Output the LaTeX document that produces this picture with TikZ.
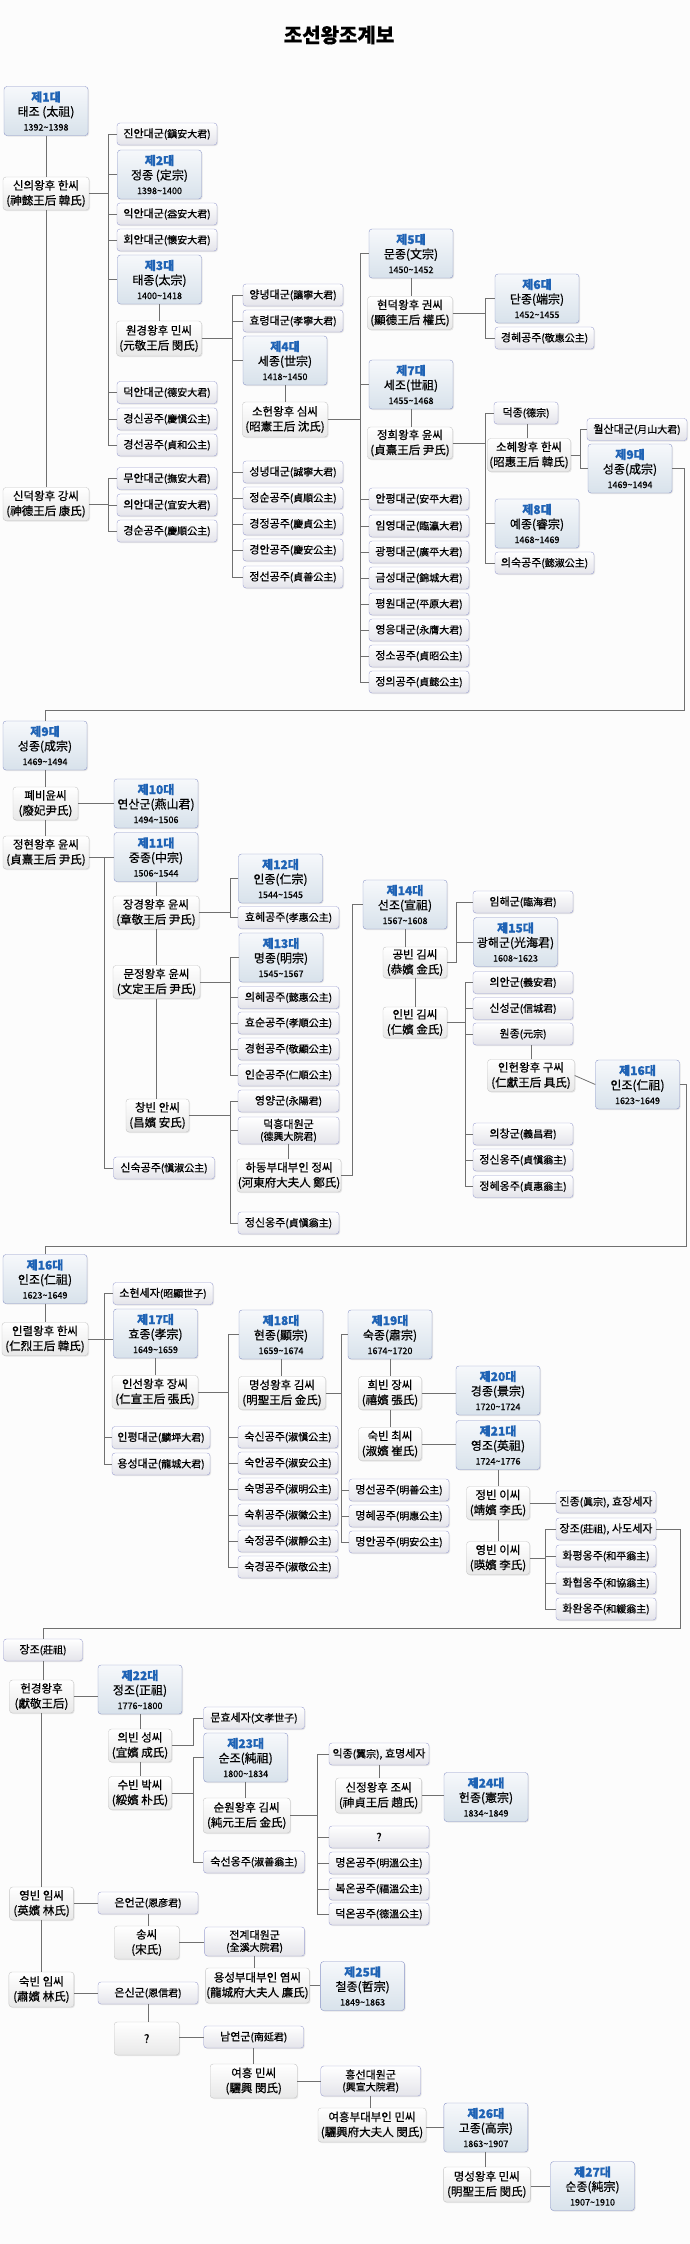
\documentclass[tikz,border=0pt]{standalone}
\usepackage{fontspec}
\setmainfont{Noto Sans CJK KR}[FakeBold=0.6]
\usepackage{xcolor}
\usetikzlibrary{shadows}
\definecolor{daeblue}{HTML}{1F63B5}
\definecolor{kingline}{HTML}{8C96C8}
\definecolor{kidline}{HTML}{9EA2D2}
\definecolor{wifeline}{HTML}{C6C6C6}
\definecolor{linkgray}{HTML}{707070}
\definecolor{kingtop}{HTML}{F6F8FB}
\definecolor{kingbot}{HTML}{D8E2EB}
\definecolor{kidbot}{HTML}{E4E4EA}
\definecolor{wifebot}{HTML}{E8E8E8}
\definecolor{paper}{HTML}{FCFCFC}
\newcommand{\hj}{\fontsize{10}{12}\selectfont}
\newcommand{\dae}{\color{daeblue}\bfseries}
\newcommand{\yr}{\fontsize{9}{14.5}\selectfont}
\tikzset{king/.style={draw=kingline, rounded corners=3pt, top color=kingtop, bottom color=kingbot,
   minimum width=84pt, minimum height=49pt, inner sep=0pt, align=center,
   font=\fontsize{12}{14.5}\selectfont, drop shadow={opacity=0.18,shadow xshift=1pt,shadow yshift=-1pt}},
 kid/.style={draw=kidline, rounded corners=3pt, top color=white, bottom color=kidbot,
   minimum width=100pt, minimum height=22pt, inner sep=0pt, align=center,
   font=\fontsize{11}{12}\selectfont, drop shadow={opacity=0.18,shadow xshift=1pt,shadow yshift=-1pt}},
 wife/.style={draw=wifeline, rounded corners=3pt, top color=white, bottom color=wifebot,
   minimum height=33pt, inner sep=0pt, align=center,
   font=\fontsize{11.5}{15}\selectfont, drop shadow={opacity=0.18,shadow xshift=1pt,shadow yshift=-1pt}},
 link/.style={draw=linkgray, line width=0.8pt},
 }

\begin{document}
\begin{tikzpicture}[x=1pt,y=-1pt]
        \fill[paper] (0,0) rectangle (690,2244);
        \useasboundingbox (0,0) rectangle (690,2244);
        \node[font=\fontsize{20}{24}\selectfont\bfseries] (title) at (339,35) {조선왕조계보};

        \coordinate (b1) at (108,0);
        \coordinate (b3) at (232,0);
        \coordinate (b4) at (360,0);
        \coordinate (b5) at (485,0);
        \coordinate (b7) at (580,0);
        \coordinate (turn9) at (684,710);
        \coordinate (b8) at (104,0);
        \coordinate (b9) at (230,0);
        \coordinate (b12) at (352,0);
        \coordinate (b13) at (456,0);
        \coordinate (b14) at (465.5,0);
        \coordinate (turn16) at (686.5,1246);
        \coordinate (b16) at (228,0);
        \coordinate (b17) at (341,0);
        \coordinate (b18) at (545.5,0);
        \coordinate (turn22) at (680,1628);
        \coordinate (b19) at (193.6,0);
        \coordinate (b21) at (317.7,0);

        \node[king] (k1) at (46,111) {{\dae 제1대}\\태조 (太祖)\\{\yr 1392\textasciitilde1398}};
        \node[king] (k2) at (159.5,174.5) {{\dae 제2대}\\정종 (定宗)\\{\yr 1398\textasciitilde1400}};
        \node[king] (k3) at (159.5,279.5) {{\dae 제3대}\\태종(太宗)\\{\yr 1400\textasciitilde1418}};
        \node[king] (k4) at (285,360.5) {{\dae 제4대}\\세종(世宗)\\{\yr 1418\textasciitilde1450}};
        \node[king] (k5) at (411,253.5) {{\dae 제5대}\\문종(文宗)\\{\yr 1450\textasciitilde1452}};
        \node[king] (k6) at (537,298.5) {{\dae 제6대}\\단종(端宗)\\{\yr 1452\textasciitilde1455}};
        \node[king] (k7) at (411,384.5) {{\dae 제7대}\\세조(世祖)\\{\yr 1455\textasciitilde1468}};
        \node[king] (k8) at (537,523.5) {{\dae 제8대}\\예종(睿宗)\\{\yr 1468\textasciitilde1469}};
        \node[king] (k9) at (630,468.5) {{\dae 제9대}\\성종(成宗)\\{\yr 1469\textasciitilde1494}};
        \node[king] (k9b) at (45,745.5) {{\dae 제9대}\\성종(成宗)\\{\yr 1469\textasciitilde1494}};
        \node[king] (k10) at (156,803.5) {{\dae 제10대}\\연산군(燕山君)\\{\yr 1494\textasciitilde1506}};
        \node[king] (k11) at (156,857) {{\dae 제11대}\\중종(中宗)\\{\yr 1506\textasciitilde1544}};
        \node[king] (k12) at (280.5,878.5) {{\dae 제12대}\\인종(仁宗)\\{\yr 1544\textasciitilde1545}};
        \node[king] (k13) at (281,957.5) {{\dae 제13대}\\명종(明宗)\\{\yr 1545\textasciitilde1567}};
        \node[king] (k14) at (405,904.5) {{\dae 제14대}\\선조(宣祖)\\{\yr 1567\textasciitilde1608}};
        \node[king] (k15) at (515.5,942) {{\dae 제15대}\\광해군(光海君)\\{\yr 1608\textasciitilde1623}};
        \node[king] (k16) at (637.5,1084.5) {{\dae 제16대}\\인조(仁祖)\\{\yr 1623\textasciitilde1649}};
        \node[king] (k16b) at (45,1279) {{\dae 제16대}\\인조(仁祖)\\{\yr 1623\textasciitilde1649}};
        \node[king] (k17) at (155.5,1333.5) {{\dae 제17대}\\효종(孝宗)\\{\yr 1649\textasciitilde1659}};
        \node[king] (k18) at (281,1334.5) {{\dae 제18대}\\현종(顯宗)\\{\yr 1659\textasciitilde1674}};
        \node[king] (k19) at (390,1334.5) {{\dae 제19대}\\숙종(肅宗)\\{\yr 1674\textasciitilde1720}};
        \node[king] (k20) at (498,1390.5) {{\dae 제20대}\\경종(景宗)\\{\yr 1720\textasciitilde1724}};
        \node[king] (k21) at (498,1445) {{\dae 제21대}\\영조(英祖)\\{\yr 1724\textasciitilde1776}};
        \node[king] (k22) at (140,1689.5) {{\dae 제22대}\\정조(正祖)\\{\yr 1776\textasciitilde1800}};
        \node[king] (k23) at (245.7,1757.5) {{\dae 제23대}\\순조(純祖)\\{\yr 1800\textasciitilde1834}};
        \node[king] (k24) at (486,1797) {{\dae 제24대}\\헌종(憲宗)\\{\yr 1834\textasciitilde1849}};
        \node[king] (k25) at (362.6,1986) {{\dae 제25대}\\철종(哲宗)\\{\yr 1849\textasciitilde1863}};
        \node[king] (k26) at (485.8,2127.5) {{\dae 제26대}\\고종(高宗)\\{\yr 1863\textasciitilde1907}};
        \node[king] (k27) at (592.5,2186) {{\dae 제27대}\\순종(純宗)\\{\yr 1907\textasciitilde1910}};

        \node[wife, minimum width=86pt] (sinui) at (46,193.5) {신의왕후 한씨\\(神懿王后 韓氏)};
        \node[wife, minimum width=86pt] (sindeok) at (46,504) {신덕왕후 강씨\\(神德王后 康氏)};
        \node[wife, minimum width=85pt, minimum height=35pt] (wongyeong) at (159,338.5) {원경왕후 민씨\\(元敬王后 閔氏)};
        \node[wife, minimum width=85pt, minimum height=35pt] (soheon) at (285,419.5) {소헌왕후 심씨\\(昭憲王后 沈氏)};
        \node[wife, minimum width=85pt] (hyeondeok) at (410,313) {현덕왕후 권씨\\(顯德王后 權氏)};
        \node[wife, minimum width=85pt, minimum height=32pt] (jeonghui) at (410,443) {정희왕후 윤씨\\(貞熹王后 尹氏)};
        \node[wife, minimum width=83pt] (sohye) at (529,455) {소혜왕후 한씨\\(昭惠王后 韓氏)};
        \node[wife, minimum width=65pt] (pyebi) at (45.5,803.5) {폐비윤씨\\(廢妃尹氏)};
        \node[wife, minimum width=86pt] (jeonghyeon) at (46,852.5) {정현왕후 윤씨\\(貞熹王后 尹氏)};
        \node[wife, minimum width=86pt] (janggyeong) at (156,912.5) {장경왕후 윤씨\\(章敬王后 尹氏)};
        \node[wife, minimum width=87pt] (munjeong) at (156.5,982) {문정왕후 윤씨\\(文定王后 尹氏)};
        \node[wife, minimum width=63pt] (changbin) at (157.5,1115.5) {창빈 안씨\\(昌嬪 安氏)};
        \node[wife, minimum width=104pt] (hadong) at (289,1175.5) {하동부대부인 정씨\\(河東府大夫人 鄭氏)};
        \node[wife, minimum width=64pt, minimum height=31pt] (gongbin) at (415,962.5) {공빈 김씨\\(恭嬪 金氏)};
        \node[wife, minimum width=64pt, minimum height=31pt] (inbin) at (415,1022.5) {인빈 김씨\\(仁嬪 金氏)};
        \node[wife, minimum width=87pt, minimum height=32pt] (inheon) at (531,1075.5) {인헌왕후 구씨\\(仁獻王后 具氏)};
        \node[wife, minimum width=86pt] (inryeol) at (45,1339) {인렬왕후 한씨\\(仁烈王后 韓氏)};
        \node[wife, minimum width=86pt] (inseon) at (155,1392) {인선왕후 장씨\\(仁宣王后 張氏)};
        \node[wife, minimum width=87pt] (myeongseong) at (282,1393) {명성왕후 김씨\\(明聖王后 金氏)};
        \node[wife, minimum width=63pt] (huibin) at (390,1393) {희빈 장씨\\(禧嬪 張氏)};
        \node[wife, minimum width=63pt] (sukbin) at (390,1444) {숙빈 최씨\\(淑嬪 崔氏)};
        \node[wife, minimum width=63pt] (jeongbin) at (498,1503) {정빈 이씨\\(靖嬪 李氏)};
        \node[wife, minimum width=63pt] (yeongbin) at (498,1558) {영빈 이씨\\(暎嬪 李氏)};
        \node[wife, minimum width=64pt] (heongyeong) at (41.5,1696.5) {헌경왕후\\(獻敬王后)};
        \node[wife, minimum width=63pt] (uibin) at (140,1745.5) {의빈 성씨\\(宜嬪 成氏)};
        \node[wife, minimum width=63pt] (subin) at (140,1793) {수빈 박씨\\(綏嬪 朴氏)};
        \node[wife, minimum width=87pt, minimum height=35pt] (sunwon) at (246.7,1815.5) {순원왕후 김씨\\(純元王后 金氏)};
        \node[wife, minimum width=86pt, minimum height=35pt] (sinjeong) at (378.6,1795.5) {신정왕후 조씨\\(神貞王后 趙氏)};
        \node[wife, minimum width=64pt] (yeongbinim) at (41.6,1903.5) {영빈 임씨\\(英嬪 林氏)};
        \node[wife, minimum width=65pt, minimum height=35pt] (sukbinim) at (41.4,1989.5) {숙빈 임씨\\(肅嬪 林氏)};
        \node[wife, minimum width=65pt] (song) at (146.7,1942.5) {송씨\\(宋氏)};
        \node[wife, minimum width=104pt, minimum height=35pt] (yeom) at (257.4,1985.5) {용성부대부인 염씨\\(龍城府大夫人 廉氏)};
        \node[wife, minimum width=65pt] (unknownw) at (146.7,2038.5) {?};
        \node[wife, minimum width=87pt, minimum height=34pt] (yeoheung) at (253.7,2081) {여흥 민씨\\(驪興 閔氏)};
        \node[wife, minimum width=108pt, minimum height=34pt] (yeoheungbu) at (372,2125) {여흥부대부인 민씨\\(驪興府大夫人 閔氏)};
        \node[wife, minimum width=87pt, minimum height=35pt] (myeongseongmin) at (486.8,2184.5) {명성왕후 민씨\\(明聖王后 閔氏)};

        \node[kid] (jinan) at (167,134) {진안대군{\hj(鎭安大君)}};
        \node[kid] (ikan) at (167,214) {익안대군{\hj(益安大君)}};
        \node[kid] (hoean) at (167,240) {회안대군{\hj(懷安大君)}};
        \node[kid] (deokan) at (167,392.5) {덕안대군{\hj(德安大君)}};
        \node[kid] (gyeongsin) at (167,419) {경신공주{\hj(慶愼公主)}};
        \node[kid] (gyeongseon) at (167,445) {경선공주{\hj(貞和公主)}};
        \node[kid] (muan) at (167,478.5) {무안대군{\hj(撫安大君)}};
        \node[kid] (uian) at (167,505) {의안대군{\hj(宜安大君)}};
        \node[kid] (gyeongsun) at (167,531) {경순공주{\hj(慶順公主)}};
        \node[kid] (yangnyeong) at (293,295) {양녕대군{\hj(讓寧大君)}};
        \node[kid] (hyoryeong) at (293,321) {효령대군{\hj(孝寧大君)}};
        \node[kid] (seongnyeong) at (293,472) {성녕대군{\hj(誠寧大君)}};
        \node[kid] (jeongsun) at (293,498) {정순공주{\hj(貞順公主)}};
        \node[kid] (gyeongjeong) at (293,524) {경정공주{\hj(慶貞公主)}};
        \node[kid] (gyeongan) at (293,550) {경안공주{\hj(慶安公主)}};
        \node[kid] (jeongseon) at (293,577) {정선공주{\hj(貞善公主)}};
        \node[kid, minimum width=99pt] (gyeonghye) at (544.5,338) {경혜공주{\hj(敬惠公主)}};
        \node[kid] (anpyeong) at (419,499) {안평대군{\hj(安平大君)}};
        \node[kid] (imyeong) at (419,526) {임영대군{\hj(臨瀛大君)}};
        \node[kid] (gwangpyeong) at (419,552) {광평대군{\hj(廣平大君)}};
        \node[kid] (geumseong) at (419,578) {금성대군{\hj(錦城大君)}};
        \node[kid] (pyeongwon) at (419,604) {평원대군{\hj(平原大君)}};
        \node[kid] (yeongeung) at (419,630) {영응대군{\hj(永膺大君)}};
        \node[kid] (jeongso) at (419,656) {정소공주{\hj(貞昭公主)}};
        \node[kid] (jeongui) at (419,682) {정의공주{\hj(貞懿公主)}};
        \node[kid, minimum width=64pt] (deokjong) at (526,413) {덕종{\hj(德宗)}};
        \node[kid] (wolsan) at (637,429.5) {월산대군{\hj(月山大君)}};
        \node[kid, minimum width=99pt] (uisuk) at (544.5,563) {의숙공주{\hj(懿淑公主)}};
        \node[kid, minimum width=101pt] (hyohye) at (288.5,917.5) {효혜공주{\hj(孝惠公主)}};
        \node[kid, minimum width=101pt] (uihye) at (288.5,997.5) {의혜공주{\hj(懿惠公主)}};
        \node[kid, minimum width=101pt] (hyosun) at (288.5,1023) {효순공주{\hj(孝順公主)}};
        \node[kid, minimum width=101pt] (gyeonghyeon) at (288.5,1049) {경현공주{\hj(敬顯公主)}};
        \node[kid, minimum width=101pt] (insun) at (288.5,1075) {인순공주{\hj(仁順公主)}};
        \node[kid, minimum width=101pt] (yeongyang) at (288.5,1101) {영양군{\hj(永陽君)}};
        \node[kid, minimum width=101pt, minimum height=27pt] (deokheung) at (288.5,1130.5) {덕흥대원군\\{\hj(德興大院君)}};
        \node[kid, minimum width=101pt] (jeongsin) at (288.5,1223) {정신옹주{\hj(貞愼翁主)}};
        \node[kid, minimum width=101pt] (sinsuk) at (164,1168) {신숙공주{\hj(愼淑公主)}};
        \node[kid] (imhae) at (523,902) {임해군{\hj(臨海君)}};
        \node[kid] (uiangun) at (523,982.5) {의안군{\hj(義安君)}};
        \node[kid] (sinseong) at (523,1008.5) {신성군{\hj(信城君)}};
        \node[kid] (wonjong) at (523,1034) {원종{\hj(元宗)}};
        \node[kid] (uichang) at (523,1134) {의창군{\hj(義昌君)}};
        \node[kid] (jeongsinb) at (523,1160) {정신옹주{\hj(貞愼翁主)}};
        \node[kid] (jeonghye) at (523,1186.5) {정혜옹주{\hj(貞惠翁主)}};
        \node[kid] (sohyeon) at (163,1293.5) {소현세자{\hj(昭顯世子)}};
        \node[kid, minimum width=98pt] (inpyeong) at (161,1437.5) {인평대군{\hj(麟坪大君)}};
        \node[kid, minimum width=98pt] (yongseong) at (161,1464) {용성대군{\hj(龍城大君)}};
        \node[kid] (suksin) at (288,1437) {숙신공주{\hj(淑愼公主)}};
        \node[kid] (sukan) at (288,1463) {숙안공주{\hj(淑安公主)}};
        \node[kid] (sukmyeong) at (288,1489) {숙명공주{\hj(淑明公主)}};
        \node[kid] (sukhwi) at (288,1515) {숙휘공주{\hj(淑徽公主)}};
        \node[kid] (sukjeong) at (288,1541) {숙정공주{\hj(淑靜公主)}};
        \node[kid] (sukgyeong) at (288,1567) {숙경공주{\hj(淑敬公主)}};
        \node[kid] (myeongseon) at (399,1490) {명선공주{\hj(明善公主)}};
        \node[kid] (myeonghye) at (399,1516) {명혜공주{\hj(明惠公主)}};
        \node[kid] (myeongan) at (399,1542) {명안공주{\hj(明安公主)}};
        \node[kid] (jinjong) at (606,1502) {진종{\hj(眞宗)}, 효장세자};
        \node[kid] (jangjo) at (606,1529) {장조{\hj(莊祖)}, 사도세자};
        \node[kid] (hwapyeong) at (606,1556) {화평옹주{\hj(和平翁主)}};
        \node[kid] (hwahyeop) at (606,1583) {화협옹주{\hj(和協翁主)}};
        \node[kid] (hwawan) at (606,1609) {화완옹주{\hj(和緩翁主)}};
        \node[kid, minimum width=79pt] (jangjob) at (43,1650) {장조{\hj(莊祖)}};
        \node[kid, minimum width=101pt] (munhyo) at (254,1718) {문효세자{\hj(文孝世子)}};
        \node[kid, minimum width=101pt] (sukseon) at (254,1862) {숙선옹주{\hj(淑善翁主)}};
        \node[kid] (ikjong) at (379,1754) {익종{\hj(翼宗)}, 효명세자};
        \node[kid] (unknownc) at (379,1837) {?};
        \node[kid] (myeongon) at (379,1863) {명온공주{\hj(明溫公主)}};
        \node[kid] (bogon) at (379,1889) {복온공주{\hj(福溫公主)}};
        \node[kid] (deokon) at (379,1914) {덕온공주{\hj(德溫公主)}};
        \node[kid] (euneon) at (148,1903) {은언군{\hj(恩彦君)}};
        \node[kid] (eunsin) at (148,1993) {은신군{\hj(恩信君)}};
        \node[kid, minimum height=29pt] (jeongye) at (254.6,1941.5) {전계대원군\\{\hj(全溪大院君)}};
        \node[kid] (namyeon) at (253.7,2037) {남연군{\hj(南延君)}};
        \node[kid, minimum height=30pt] (heungseon) at (370.7,2081) {흥선대원군\\{\hj(興宣大院君)}};

        \draw[link] (k1.south) -- (k1.south |- sinui.north);
        \draw[link] (sinui.south) -- (sinui.south |- sindeok.north);
        \draw[link] (sinui.east) -- (sinui.east -| b1);
        \draw[link] (jinan.west) -| (b1 |- gyeongseon.west) -- (gyeongseon.west);
        \draw[link] (k2.west) -- (k2.west -| b1);
        \draw[link] (ikan.west) -- (ikan.west -| b1);
        \draw[link] (hoean.west) -- (hoean.west -| b1);
        \draw[link] (k3.west) -- (k3.west -| b1);
        \draw[link] (deokan.west) -- (deokan.west -| b1);
        \draw[link] (gyeongsin.west) -- (gyeongsin.west -| b1);
        \draw[link] (sindeok.east) -- (sindeok.east -| b1);
        \draw[link] (muan.west) -| (b1 |- gyeongsun.west) -- (gyeongsun.west);
        \draw[link] (uian.west) -- (uian.west -| b1);

        \draw[link] (k3.south) -- (k3.south |- wongyeong.north);
        \draw[link] (wongyeong.east) -- (wongyeong.east -| b3);
        \draw[link] (yangnyeong.west) -| (b3 |- jeongseon.west) -- (jeongseon.west);
        \draw[link] (hyoryeong.west) -- (hyoryeong.west -| b3);
        \draw[link] (k4.west) -- (k4.west -| b3);
        \draw[link] (seongnyeong.west) -- (seongnyeong.west -| b3);
        \draw[link] (jeongsun.west) -- (jeongsun.west -| b3);
        \draw[link] (gyeongjeong.west) -- (gyeongjeong.west -| b3);
        \draw[link] (gyeongan.west) -- (gyeongan.west -| b3);

        \draw[link] (k4.south) -- (k4.south |- soheon.north);
        \draw[link] (soheon.east) -- (soheon.east -| b4);
        \draw[link] (k5.west) -| (b4 |- jeongui.west) -- (jeongui.west);
        \draw[link] (k7.west) -- (k7.west -| b4);
        \draw[link] (anpyeong.west) -- (anpyeong.west -| b4);
        \draw[link] (imyeong.west) -- (imyeong.west -| b4);
        \draw[link] (gwangpyeong.west) -- (gwangpyeong.west -| b4);
        \draw[link] (geumseong.west) -- (geumseong.west -| b4);
        \draw[link] (pyeongwon.west) -- (pyeongwon.west -| b4);
        \draw[link] (yeongeung.west) -- (yeongeung.west -| b4);
        \draw[link] (jeongso.west) -- (jeongso.west -| b4);

        \draw[link] (k5.south) -- (k5.south |- hyeondeok.north);
        \draw[link] (hyeondeok.east) -- (hyeondeok.east -| b5);
        \draw[link] (k6.west) -| (b5 |- gyeonghye.west) -- (gyeonghye.west);
        \draw[link] (k7.south) -- (k7.south |- jeonghui.north);
        \draw[link] (jeonghui.east) -- (jeonghui.east -| b5);
        \draw[link] (deokjong.west) -| (b5 |- uisuk.west) -- (uisuk.west);
        \draw[link] (k8.west) -- (k8.west -| b5);
        \draw[link] (sohye.north -| 527,0) -- (527,0 |- deokjong.south);
        \draw[link] (sohye.east) -- (sohye.east -| b7);
        \draw[link] (wolsan.west) -| (b7 |- k9.west) -- (k9.west);
        \draw[link] (k9.east) -| (turn9) -| (k9b.north);

        \draw[link] (k9b.south) -- (k9b.south |- pyebi.north);
        \draw[link] (pyebi.south) -- (pyebi.south |- jeonghyeon.north);
        \draw[link] (pyebi.east) -- (k10.west);
        \draw[link] (jeonghyeon.east |- k11.west) -- (k11.west);
        \draw[link] (b8 |- k11.west) |- (sinsuk.west);
        \draw[link] (k11.south) -- (k11.south |- janggyeong.north);
        \draw[link] (janggyeong.south) -- (janggyeong.south |- munjeong.north);
        \draw[link] (munjeong.south) -- (munjeong.south |- changbin.north);
        \draw[link] (janggyeong.east) -- (janggyeong.east -| b9);
        \draw[link] (k12.west) -| (b9 |- hyohye.west) -- (hyohye.west);
        \draw[link] (munjeong.east) -- (munjeong.east -| b9);
        \draw[link] (k13.west) -| (b9 |- insun.west) -- (insun.west);
        \draw[link] (uihye.west) -- (uihye.west -| b9);
        \draw[link] (hyosun.west) -- (hyosun.west -| b9);
        \draw[link] (gyeonghyeon.west) -- (gyeonghyeon.west -| b9);
        \draw[link] (changbin.east) -- (changbin.east -| b9);
        \draw[link] (yeongyang.west) -| (b9 |- jeongsin.west) -- (jeongsin.west);
        \draw[link] (deokheung.west) -- (deokheung.west -| b9);
        \draw[link] (deokheung.south) -- (deokheung.south |- hadong.north);
        \draw[link] (hadong.east) -| (b12 |- k14.west) -- (k14.west);

        \draw[link] (k14.south) -- (k14.south |- gongbin.north);
        \draw[link] (gongbin.south) -- (gongbin.south |- inbin.north);
        \draw[link] (imhae.west) -| (b13 |- gongbin.east) -- (gongbin.east);
        \draw[link] (k15.west) -- (k15.west -| b13);
        \draw[link] (inbin.east) -- (inbin.east -| b14);
        \draw[link] (uiangun.west) -| (b14 |- jeonghye.west) -- (jeonghye.west);
        \draw[link] (sinseong.west) -- (sinseong.west -| b14);
        \draw[link] (wonjong.west) -- (wonjong.west -| b14);
        \draw[link] (uichang.west) -- (uichang.west -| b14);
        \draw[link] (jeongsinb.west) -- (jeongsinb.west -| b14);
        \draw[link] (inheon.north) -- (inheon.north |- wonjong.south);
        \draw[link] (inheon.east) -- (k16.west);
        \draw[link] (k16.east) -| (turn16) -| (k16b.north);

        \draw[link] (k16b.south) -- (k16b.south |- inryeol.north);
        \draw[link] (inryeol.east) -- (inryeol.east -| k17.west);
        \draw[link] (sohyeon.west) -| (b8 |- yongseong.west) -- (yongseong.west);
        \draw[link] (inpyeong.west) -- (inpyeong.west -| b8);
        \draw[link] (k17.south) -- (k17.south |- inseon.north);
        \draw[link] (inseon.east) -- (inseon.east -| b16);
        \draw[link] (k18.west) -| (b16 |- sukgyeong.west) -- (sukgyeong.west);
        \draw[link] (suksin.west) -- (suksin.west -| b16);
        \draw[link] (sukan.west) -- (sukan.west -| b16);
        \draw[link] (sukmyeong.west) -- (sukmyeong.west -| b16);
        \draw[link] (sukhwi.west) -- (sukhwi.west -| b16);
        \draw[link] (sukjeong.west) -- (sukjeong.west -| b16);
        \draw[link] (k18.south) -- (k18.south |- myeongseong.north);
        \draw[link] (myeongseong.east) -- (myeongseong.east -| b17);
        \draw[link] (k19.west) -| (b17 |- myeongan.west) -- (myeongan.west);
        \draw[link] (myeongseon.west) -- (myeongseon.west -| b17);
        \draw[link] (myeonghye.west) -- (myeonghye.west -| b17);
        \draw[link] (k19.south) -- (k19.south |- huibin.north);
        \draw[link] (huibin.south) -- (huibin.south |- sukbin.north);
        \draw[link] (huibin.east) -- (huibin.east -| k20.west);
        \draw[link] (sukbin.east) -- (sukbin.east -| k21.west);
        \draw[link] (k21.south) -- (k21.south |- jeongbin.north);
        \draw[link] (jeongbin.south) -- (jeongbin.south |- yeongbin.north);
        \draw[link] (jeongbin.east) -- (jeongbin.east -| jinjong.west);
        \draw[link] (yeongbin.east) -- (yeongbin.east -| b18);
        \draw[link] (jangjo.west) -| (b18 |- hwawan.west) -- (hwawan.west);
        \draw[link] (hwapyeong.west) -- (hwapyeong.west -| b18);
        \draw[link] (hwahyeop.west) -- (hwahyeop.west -| b18);
        \draw[link] (jangjo.east) -| (turn22) -| (jangjob.north);

        \draw[link] (jangjob.south) -- (jangjob.south |- heongyeong.north);
        \draw[link] (heongyeong.south) -- (heongyeong.south |- yeongbinim.north);
        \draw[link] (yeongbinim.south) -- (yeongbinim.south |- sukbinim.north);
        \draw[link] (heongyeong.east) -- (heongyeong.east -| k22.west);
        \draw[link] (k22.south) -- (k22.south |- uibin.north);
        \draw[link] (uibin.south) -- (uibin.south |- subin.north);
        \draw[link] (uibin.east) -| (b19 |- munhyo.west) -- (munhyo.west);
        \draw[link] (subin.east) -- (subin.east -| b19);
        \draw[link] (k23.west) -| (b19 |- sukseon.west) -- (sukseon.west);
        \draw[link] (k23.south) -- (k23.south |- sunwon.north);
        \draw[link] (sunwon.east) -- (sunwon.east -| b21);
        \draw[link] (ikjong.west) -| (b21 |- deokon.west) -- (deokon.west);
        \draw[link] (unknownc.west) -- (unknownc.west -| b21);
        \draw[link] (myeongon.west) -- (myeongon.west -| b21);
        \draw[link] (bogon.west) -- (bogon.west -| b21);
        \draw[link] (ikjong.south) -- (ikjong.south |- sinjeong.north);
        \draw[link] (sinjeong.east) -- (sinjeong.east -| k24.west);

        \draw[link] (yeongbinim.east) -- (yeongbinim.east -| euneon.west);
        \draw[link] (euneon.south) -- (euneon.south |- song.north);
        \draw[link] (song.east) -- (song.east -| jeongye.west);
        \draw[link] (jeongye.south) -- (jeongye.south |- yeom.north);
        \draw[link] (yeom.east) -- (yeom.east -| k25.west);
        \draw[link] (sukbinim.east |- eunsin.west) -- (eunsin.west);
        \draw[link] (eunsin.south) -- (eunsin.south |- unknownw.north);
        \draw[link] (unknownw.east |- namyeon.west) -- (namyeon.west);
        \draw[link] (namyeon.south) -- (namyeon.south |- yeoheung.north);
        \draw[link] (yeoheung.east) -- (yeoheung.east -| heungseon.west);
        \draw[link] (heungseon.south) -- (heungseon.south |- yeoheungbu.north);
        \draw[link] (yeoheungbu.east |- k26.west) -- (k26.west);
        \draw[link] (k26.south) -- (k26.south |- myeongseongmin.north);
        \draw[link] (myeongseongmin.east |- k27.west) -- (k27.west);
    \end{tikzpicture}
\end{document}
